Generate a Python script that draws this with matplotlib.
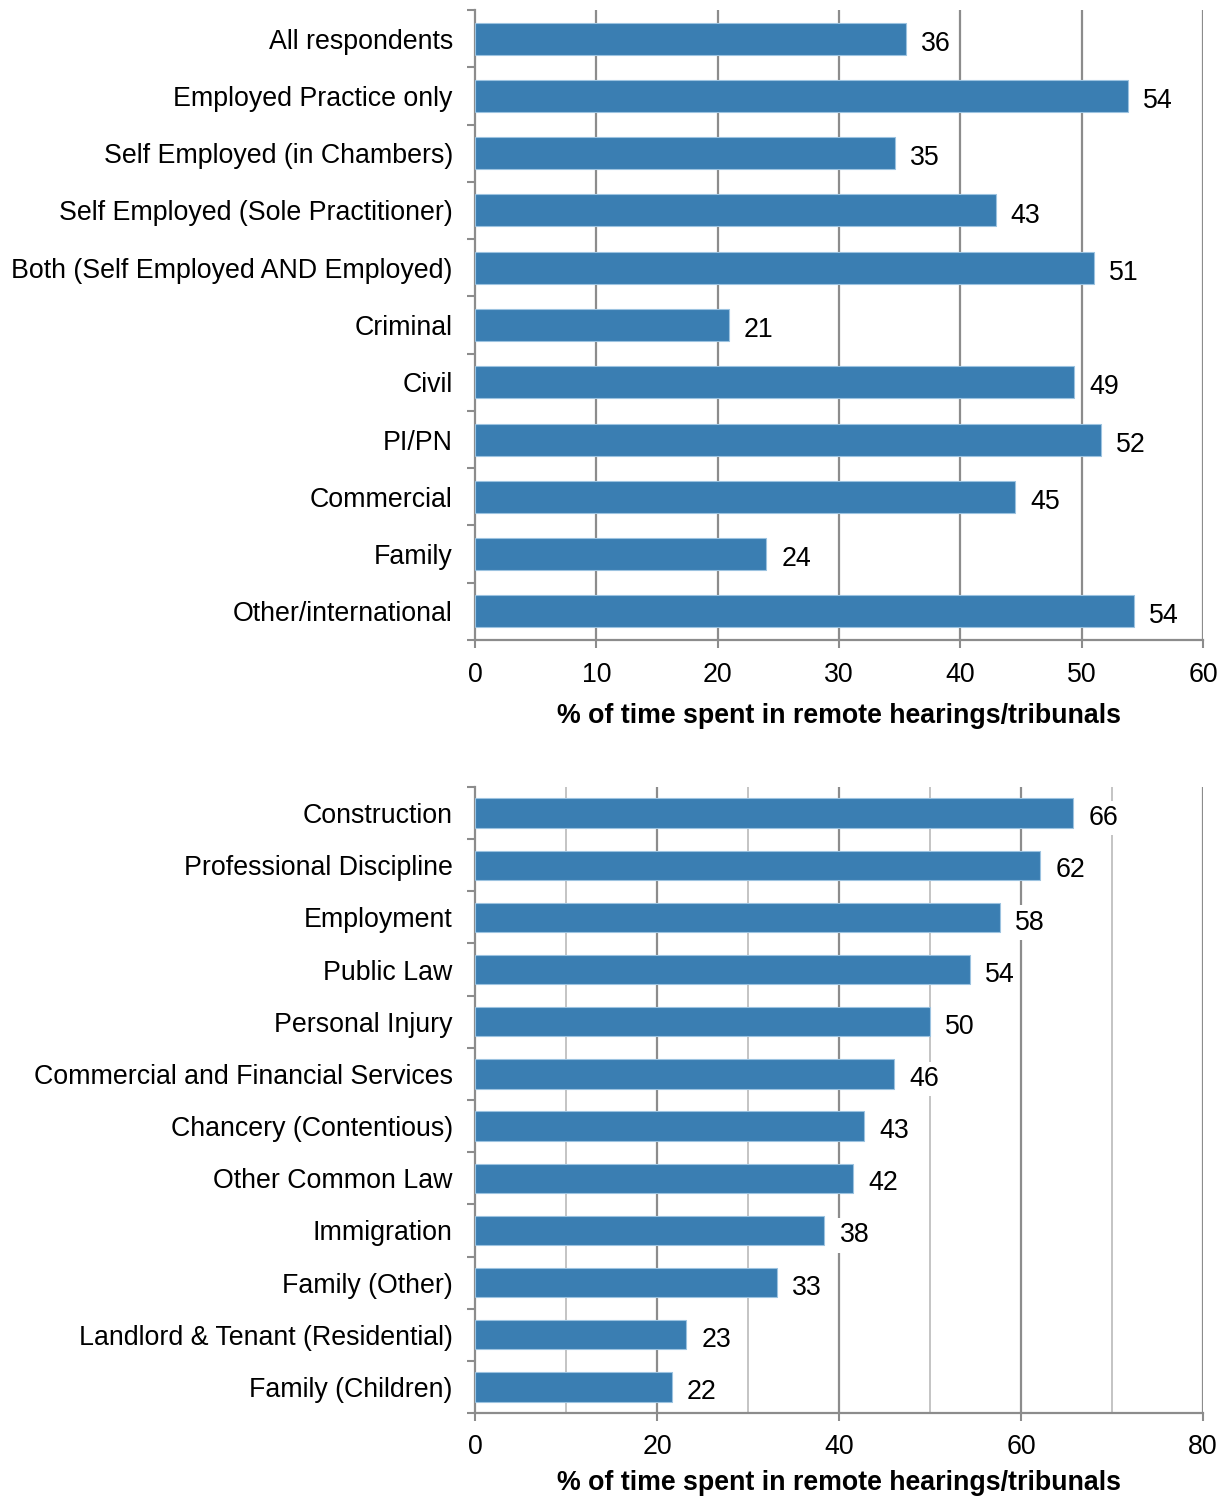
import matplotlib
matplotlib.use("Agg")
import matplotlib.pyplot as plt
import numpy as np

plt.rcParams["font.family"] = ["Liberation Sans", "DejaVu Sans"]

top_labels = ["All respondents", "Employed Practice only", "Self Employed (in Chambers)",
              "Self Employed (Sole Practitioner)", "Both (Self Employed AND Employed)",
              "Criminal", "Civil", "PI/PN", "Commercial", "Family", "Other/international"]
top_values = [35.5, 53.8, 34.6, 42.9, 51.0, 20.9, 49.4, 51.6, 44.5, 24.0, 54.3]
top_shown = [36, 54, 35, 43, 51, 21, 49, 52, 45, 24, 54]

bot_labels = ["Construction", "Professional Discipline", "Employment", "Public Law",
              "Personal Injury", "Commercial and Financial Services", "Chancery (Contentious)",
              "Other Common Law", "Immigration", "Family (Other)",
              "Landlord & Tenant (Residential)", "Family (Children)"]
bot_values = [65.7, 62.1, 57.7, 54.4, 50.0, 46.0, 42.8, 41.5, 38.4, 33.2, 23.2, 21.6]
bot_shown = [66, 62, 58, 54, 50, 46, 43, 42, 38, 33, 23, 22]

XLABEL = "% of time spent in remote hearings/tribunals"
BAR = "#3a7eb2"
GRID = "#8c8c8c"
FS = 19.3

W, H = 1229, 1499
fig = plt.figure(figsize=(W / 100, H / 100), dpi=100)


def panel(rect, labels, values, shown, xmax, major, minor, tpad, lpad):
    ax = fig.add_axes(rect)
    n = len(labels)
    y = np.arange(n)
    ax.barh(y, values, height=0.56, color=BAR, edgecolor="#9cc3e0", linewidth=0.8, zorder=3)
    for yi, v, s in zip(y, values, shown):
        ax.annotate(f"{s}", (v, yi), xytext=(11, -1.5), textcoords="offset points",
                    va="center_baseline", ha="left", fontsize=FS, zorder=4,
                    bbox=dict(boxstyle="square,pad=0.15", fc="white", ec="none"))
    ax.set_ylim(n - 0.5, -0.5)
    ax.set_xlim(0, xmax)
    ax.set_xticks(np.arange(0, xmax + 1, major))
    ax.tick_params(axis="x", labelsize=FS, length=6, color=GRID, width=1.5, pad=tpad)
    for g in np.arange(major, xmax + 1, major):
        ax.axvline(g, color=GRID, lw=1.6, zorder=1)
    if minor:
        for g in np.arange(minor, xmax, major):
            ax.axvline(g, color="#c4c4c4", lw=1.4, zorder=1)
    # category labels, ticks sit between categories
    ax.set_yticks(y)
    ax.set_yticklabels(labels, fontsize=FS)
    ax.tick_params(axis="y", which="major", length=0, pad=16)
    ax.set_yticks(np.arange(-0.5, n, 1.0), minor=True)
    ax.tick_params(axis="y", which="minor", length=6, color=GRID, width=1.5)
    for s in ("top", "right"):
        ax.spines[s].set_visible(False)
    for s in ("left", "bottom"):
        ax.spines[s].set_color(GRID)
        ax.spines[s].set_linewidth(1.6)
    ax.set_xlabel(XLABEL, fontsize=FS, fontweight="bold", labelpad=lpad)
    return ax


panel([475 / W, 1 - 640 / H, 728 / W, 630 / H], top_labels, top_values, top_shown,
      60, 10, None, 10, 11)
panel([475 / W, 1 - 1413 / H, 728 / W, 626 / H], bot_labels, bot_values, bot_shown,
      80, 20, 10, 9, 7)

fig.savefig("out.png", dpi=100, facecolor="white")
